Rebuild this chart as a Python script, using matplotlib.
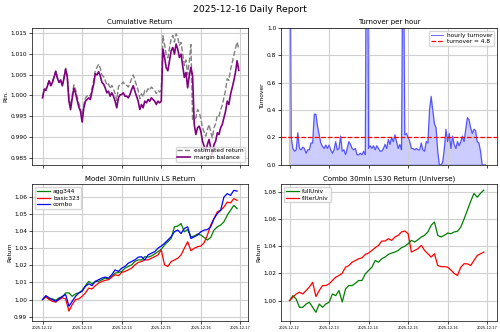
import numpy as np
import pandas as pd
import matplotlib
matplotlib.use('Agg')
import matplotlib.pyplot as plt

# ---- data ----
margin_balance = [
    0.9994, 1.0014, 1.0012, 1.0023, 1.0035, 1.0023, 1.0031, 1.0044, 1.0057, 1.0041,
    1.0031, 1.0036, 1.0023, 1.0041, 1.0063, 1.0044, 0.9986, 0.9966, 0.9993, 1.0017,
    1.0006, 0.9988, 0.9972, 0.9962, 0.9936, 0.9969, 0.9986, 0.9990, 0.9994, 0.9990,
    1.0009, 1.0027, 1.0052, 1.0049, 1.0057, 1.0047, 1.0031, 1.0027, 1.0018, 1.0006,
    1.0010, 0.9998, 1.0006, 0.9998, 0.9986, 0.9970, 0.9994, 1.0001, 1.0002, 1.0006,
    0.9998, 0.9998, 0.9994, 1.0002, 1.0014, 1.0023, 1.0010, 0.9998, 0.9986, 0.9966,
    0.9978, 0.9970, 0.9986, 0.9982, 0.9990, 0.9986, 0.9994, 0.9990, 0.9986, 0.9978,
    0.9986, 0.9982, 0.9986, 1.0111, 1.0091, 1.0067, 1.0059, 1.0083, 1.0107, 1.0115,
    1.0099, 1.0123, 1.0111, 1.0091, 1.0099, 1.0071, 1.0043, 1.0055, 1.0018, 1.0047,
    1.0067, 1.0047, 0.9930, 0.9906, 0.9922, 0.9926, 0.9914, 0.9890, 0.9878, 0.9866,
    0.9882, 0.9894, 0.9874, 0.9858, 0.9882, 0.9890, 0.9910, 0.9906, 0.9922, 0.9930,
    0.9946, 0.9962, 0.9986, 0.9978, 1.0002, 1.0018, 1.0035, 1.0055, 1.0083, 1.0060,
]
estimated_return = [
    0.9996, 1.0016, 1.0014, 1.0025, 1.0037, 1.0025, 1.0033, 1.0046, 1.0059, 1.0043,
    1.0033, 1.0038, 1.0025, 1.0043, 1.0065, 1.0046, 0.9994, 0.9974, 1.0001, 1.0025,
    1.0014, 0.9996, 0.9980, 0.9970, 0.9944, 0.9977, 0.9994, 0.9998, 1.0002, 0.9998,
    1.0017, 1.0035, 1.0060, 1.0067, 1.0075, 1.0065, 1.0049, 1.0045, 1.0036, 1.0024,
    1.0028, 1.0016, 1.0024, 1.0016, 1.0004, 0.9988, 1.0020, 1.0027, 1.0028, 1.0032,
    1.0024, 1.0024, 1.0020, 1.0028, 1.0040, 1.0049, 1.0036, 1.0024, 1.0012, 0.9992,
    1.0004, 0.9996, 1.0012, 1.0008, 1.0016, 1.0012, 1.0020, 1.0016, 1.0012, 1.0004,
    1.0012, 1.0008, 1.0012, 1.0143, 1.0122, 1.0098, 1.0090, 1.0113, 1.0136, 1.0144,
    1.0128, 1.0148, 1.0138, 1.0120, 1.0127, 1.0100, 1.0072, 1.0085, 1.0050, 1.0080,
    1.0122, 0.9942, 0.9942, 0.9946, 0.9966, 0.9960, 0.9944, 0.9922, 0.9912, 0.9902,
    0.9918, 0.9930, 0.9912, 0.9898, 0.9922, 0.9932, 0.9952, 0.9950, 0.9966, 0.9976,
    0.9994, 1.0012, 1.0040, 1.0036, 1.0062, 1.0078, 1.0096, 1.0112, 1.0128, 1.0112,
]
hourly_turnover = [
    2.50, 0.20, 0.12, 0.10, 0.11, 0.235, 0.12, 0.11, 0.13, 0.12,
    0.085, 0.11, 0.11, 0.16, 0.16, 0.37, 0.37, 0.28, 0.22, 0.16,
    0.135, 0.12, 0.145, 0.12, 0.145, 0.11, 0.085, 0.11, 0.17, 0.11,
    0.12, 0.21, 0.10, 0.11, 0.075, 0.12, 0.17, 0.15, 0.12, 0.11,
    0.12, 0.074, 0.074, 0.085, 0.074, 0.10, 0.074, 3.00, 0.12, 0.14,
    0.12, 0.14, 0.11, 0.14, 0.12, 0.10, 0.10, 0.12, 0.15, 0.12,
    0.185, 0.15, 0.20, 0.17, 0.22, 0.17, 0.12, 0.15, 0.11, 2.00,
    0.22, 0.23, 0.20, 0.17, 0.12, 0.12, 0.11, 0.12, 0.11, 0.11,
    0.16, 0.11, 0.10, 0.17, 0.16, 0.40, 0.50, 0.40, 0.30, 0.27,
    0.10, 0.0, 0.0, 0.02, 0.12, 0.26, 0.17, 0.23, 0.12, 0.21,
    0.15, 0.12, 0.17, 0.14, 0.17, 0.21, 0.17, 0.26, 0.345, 0.33,
    0.27, 0.23, 0.26, 0.25, 0.17, 0.16, 0.10, 0.0, 0.0, 0.0,
]
daily_turnover = 4.8

agg344 = [
    1.0000, 1.0019, 1.0004, 1.0004, 0.9996, 1.0010, 1.0015, 1.0039, 1.0039, 1.0019,
    1.0033, 1.0039, 1.0054, 1.0081, 1.0106, 1.0092, 1.0106, 1.0106, 1.0116, 1.0125,
    1.0119, 1.0135, 1.0154, 1.0158, 1.0164, 1.0183, 1.0193, 1.0202, 1.0222, 1.0231,
    1.0231, 1.0250, 1.0247, 1.0254, 1.0266, 1.0279, 1.0293, 1.0318, 1.0337, 1.0356,
    1.0424, 1.0428, 1.0443, 1.0395, 1.0408, 1.0366, 1.0370, 1.0382, 1.0376, 1.0362,
    1.0347, 1.0362, 1.0405, 1.0424, 1.0434, 1.0453, 1.0491, 1.0520, 1.0549, 1.0530,
]
basic323 = [
    1.0000, 1.0015, 1.0000, 0.9990, 0.9985, 1.0000, 1.0010, 1.0004, 0.9933, 0.9971,
    1.0000, 1.0004, 1.0019, 1.0039, 1.0067, 1.0062, 1.0081, 1.0096, 1.0106, 1.0112,
    1.0116, 1.0131, 1.0145, 1.0139, 1.0158, 1.0164, 1.0173, 1.0183, 1.0202, 1.0216,
    1.0222, 1.0231, 1.0231, 1.0241, 1.0250, 1.0260, 1.0289, 1.0202, 1.0193, 1.0222,
    1.0231, 1.0241, 1.0260, 1.0299, 1.0337, 1.0285, 1.0299, 1.0308, 1.0312, 1.0331,
    1.0376, 1.0434, 1.0472, 1.0511, 1.0520, 1.0539, 1.0568, 1.0563, 1.0588, 1.0578,
]
combo = [
    1.0000, 1.0023, 1.0010, 1.0000, 0.9990, 1.0004, 1.0019, 1.0029, 0.9961, 0.9990,
    1.0019, 1.0039, 1.0048, 1.0077, 1.0092, 1.0081, 1.0106, 1.0116, 1.0125, 1.0131,
    1.0125, 1.0145, 1.0173, 1.0164, 1.0183, 1.0193, 1.0212, 1.0222, 1.0231, 1.0247,
    1.0250, 1.0231, 1.0260, 1.0270, 1.0279, 1.0299, 1.0312, 1.0328, 1.0347, 1.0366,
    1.0395, 1.0405, 1.0385, 1.0414, 1.0424, 1.0356, 1.0366, 1.0376, 1.0395, 1.0405,
    1.0408, 1.0424, 1.0472, 1.0501, 1.0520, 1.0597, 1.0617, 1.0607, 1.0636, 1.0632,
]
full_univ = [
    1.0000, 1.0037, 1.0012, 0.9951, 0.9951, 0.9975, 0.9988, 0.9951, 0.9914, 0.9975,
    0.9951, 0.9975, 0.9988, 1.0049, 1.0037, 1.0074, 0.9990, 1.0086, 1.0111, 1.0111,
    1.0128, 1.0148, 1.0148, 1.0197, 1.0222, 1.0246, 1.0295, 1.0283, 1.0308, 1.0320,
    1.0340, 1.0350, 1.0357, 1.0369, 1.0389, 1.0400, 1.0418, 1.0443, 1.0431, 1.0448,
    1.0468, 1.0480, 1.0505, 1.0554, 1.0578, 1.0480, 1.0468, 1.0480, 1.0497, 1.0492,
    1.0505, 1.0510, 1.0540, 1.0600, 1.0665, 1.0730, 1.0788, 1.0760, 1.0790, 1.0812,
]
filter_univ = [
    1.0000, 1.0025, 1.0049, 1.0062, 1.0049, 1.0074, 1.0100, 1.0135, 1.0030, 1.0074,
    1.0111, 1.0111, 1.0123, 1.0148, 1.0172, 1.0185, 1.0202, 1.0246, 1.0258, 1.0283,
    1.0295, 1.0308, 1.0315, 1.0340, 1.0350, 1.0369, 1.0389, 1.0406, 1.0438, 1.0438,
    1.0455, 1.0443, 1.0468, 1.0480, 1.0505, 1.0512, 1.0492, 1.0357, 1.0369, 1.0382,
    1.0406, 1.0369, 1.0345, 1.0320, 1.0345, 1.0258, 1.0250, 1.0250, 1.0246, 1.0225,
    1.0200, 1.0185, 1.0246, 1.0271, 1.0271, 1.0258, 1.0295, 1.0332, 1.0345, 1.0357,
]

t_hour = pd.date_range('2025-12-12 00:00', periods=len(margin_balance), freq='h')
t_2h = pd.date_range('2025-12-12 00:00', periods=len(combo), freq='2h')

# ---- figure ----
FS_TICK = 4.2
fig, axes = plt.subplots(2, 2, figsize=(5.0, 3.32), dpi=100, sharex='col')
fig.subplots_adjust(left=0.064, right=0.994, bottom=0.033, top=0.916,
                    wspace=0.153, hspace=0.14)
fig.suptitle('2025-12-16 Daily Report', fontsize=6.7, y=0.985)

ax = axes[0, 0]
ax.plot(t_hour, estimated_return, '--', color='gray', lw=1.0, label='estimated return')
ax.plot(t_hour, margin_balance, '-', color='purple', lw=1.2, label='margin balance')
ax.set_ylim(0.9833, 1.0162)
ax.set_title('Cumulative Return', fontsize=5.0, pad=2.5)
ax.set_ylabel('Rtn.', fontsize=FS_TICK, labelpad=1.5)
ax.legend(loc='lower right', fontsize=FS_TICK, handlelength=2.2, borderpad=0.3,
          labelspacing=0.3, handletextpad=0.6)

ax = axes[0, 1]
ax.plot(t_hour, hourly_turnover, '-', color='blue', alpha=0.55, lw=0.8, label='hourly turnover')
ax.fill_between(t_hour, hourly_turnover, color='blue', alpha=0.2)
ax.axhline(0.2, color='red', ls='--', lw=0.9, label=f'turnover = {daily_turnover}')
ax.set_ylim(0, 1.0)
ax.set_title('Turnover per hour', fontsize=5.0, pad=2.5)
ax.set_ylabel('Turnover', fontsize=FS_TICK, labelpad=1.5)
ax.legend(loc='upper right', fontsize=FS_TICK, handlelength=2.2, borderpad=0.3,
          labelspacing=0.3, handletextpad=0.6)

ax = axes[1, 0]
ax.plot(t_2h, agg344, color='green', lw=0.9, label='agg344')
ax.plot(t_2h, basic323, color='red', lw=0.9, label='basic323')
ax.plot(t_2h, combo, color='blue', lw=0.9, label='combo')
ax.set_ylim(0.9875, 1.0673)
ax.set_title('Model 30min fullUniv LS Return', fontsize=5.0, pad=2.5)
ax.set_ylabel('Return', fontsize=FS_TICK, labelpad=1.5)
ax.legend(loc='upper left', fontsize=FS_TICK, handlelength=2.2, borderpad=0.3,
          labelspacing=0.3, handletextpad=0.6)

ax = axes[1, 1]
ax.plot(t_2h, full_univ, color='green', lw=0.9, label='fullUniv')
ax.plot(t_2h, filter_univ, color='red', lw=0.9, label='filterUniv')
ax.set_ylim(0.985, 1.0857)
ax.set_title('Combo 30min LS30 Return (Universe)', fontsize=5.0, pad=2.5)
ax.set_ylabel('Return', fontsize=FS_TICK, labelpad=1.5)
ax.legend(loc='upper left', fontsize=FS_TICK, handlelength=2.2, borderpad=0.3,
          labelspacing=0.3, handletextpad=0.6)

day0 = pd.Timestamp('2025-12-12')
axes[1, 0].set_xlim(day0 - pd.Timedelta(hours=6.4), day0 + pd.Timedelta(hours=124.6))
axes[1, 1].set_xlim(day0 - pd.Timedelta(hours=5.2), day0 + pd.Timedelta(hours=126.0))

for a in axes.flat:
    a.grid(True, color='#d0d0d0', lw=0.8)
    a.tick_params(axis='y', labelsize=FS_TICK, length=2, width=0.5, pad=1.5)
    a.tick_params(axis='x', labelsize=2.6, length=2, width=0.5, pad=1.5)
    for s in a.spines.values():
        s.set_linewidth(0.5)

plt.savefig('out.png', dpi=100)
plt.close()
